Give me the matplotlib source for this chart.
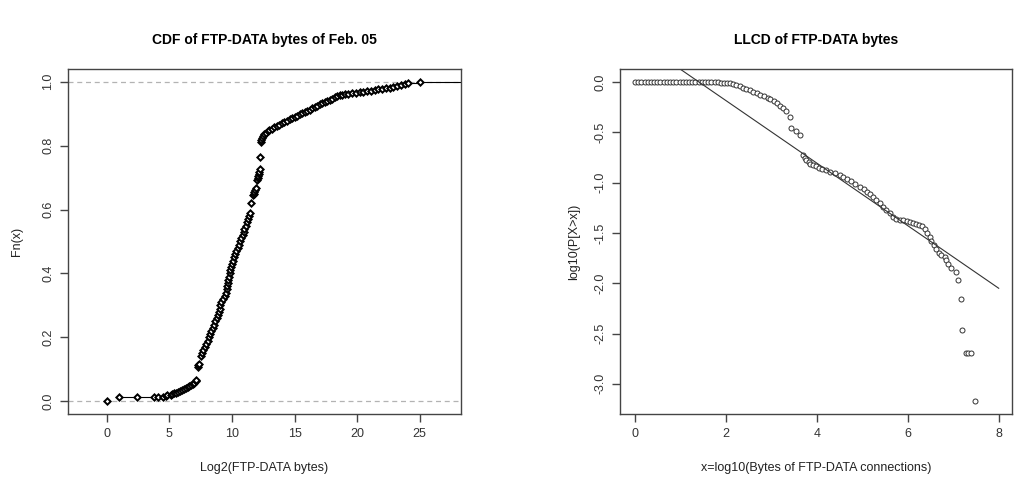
import numpy as np
import matplotlib
matplotlib.use("Agg")
import matplotlib.pyplot as plt

plt.rcParams["font.family"] = ["Liberation Sans", "DejaVu Sans"]

# left panel: empirical CDF of log2(bytes)
cdf_x = [0.0, 1.0, 2.4, 3.8, 4.1, 4.5, 4.7, 4.85,
         5.1, 5.25, 5.4, 5.55, 5.7, 5.85, 6.0, 6.15, 6.3, 6.45, 6.6, 6.75,
         6.9, 7.0, 7.1, 7.15,
         7.25, 7.3, 7.35,
         7.55, 7.63, 7.72, 7.82, 7.95, 8.05, 8.15, 8.25, 8.35, 8.45, 8.55,
         8.68, 8.78, 8.87, 8.95, 9.02, 9.08, 9.16, 9.28, 9.42, 9.52, 9.58,
         9.62, 9.67, 9.72, 9.78, 9.82, 9.86, 9.93, 10.0, 10.08, 10.15, 10.25,
         10.35, 10.45, 10.55, 10.65, 10.75, 10.85, 10.93, 11.0, 11.1, 11.2,
         11.28, 11.36, 11.42,
         11.55,
         11.72, 11.76, 11.8, 11.85, 11.9,
         12.02, 12.06, 12.1, 12.14, 12.18, 12.23,
         12.28,
         12.3, 12.34, 12.4, 12.48, 12.58, 12.7, 12.85, 13.0, 13.2, 13.4, 13.6,
         13.8, 14.0, 14.2, 14.4, 14.6, 14.8, 15.0, 15.2, 15.4, 15.6, 15.8,
         16.0, 16.2, 16.4, 16.6, 16.8, 17.0, 17.2, 17.4, 17.6, 17.8, 18.0,
         18.2, 18.4, 18.6, 18.8, 19.0,
         19.3, 19.6, 19.9, 20.2, 20.5, 20.8, 21.1, 21.4, 21.7, 22.0, 22.3,
         22.6, 22.9, 23.2, 23.5, 23.8, 24.1, 25.0]
cdf_f = [0.002, 0.012, 0.012, 0.013, 0.013, 0.014, 0.016, 0.018,
         0.021, 0.023, 0.025, 0.027, 0.029, 0.032, 0.035, 0.038, 0.041,
         0.044, 0.047, 0.051, 0.055, 0.058, 0.062, 0.066,
         0.108, 0.113, 0.117,
         0.14, 0.15, 0.16, 0.17, 0.18, 0.19, 0.20, 0.21, 0.22, 0.23, 0.24,
         0.25, 0.26, 0.27, 0.28, 0.29, 0.30, 0.31, 0.32, 0.33, 0.34, 0.35,
         0.36, 0.37, 0.38, 0.39, 0.40, 0.41, 0.42, 0.43, 0.44, 0.45, 0.46,
         0.47, 0.48, 0.49, 0.50, 0.51, 0.52, 0.53, 0.54, 0.55, 0.56, 0.57,
         0.58, 0.59,
         0.621,
         0.645, 0.650, 0.655, 0.660, 0.666,
         0.694, 0.700, 0.705, 0.710, 0.716, 0.726,
         0.766,
         0.812, 0.818, 0.824, 0.830, 0.835, 0.840, 0.845, 0.849, 0.853, 0.858,
         0.862, 0.866, 0.870, 0.874, 0.878, 0.882, 0.886, 0.890, 0.894, 0.898,
         0.901, 0.905, 0.909, 0.913, 0.917, 0.921, 0.925, 0.929, 0.933, 0.936,
         0.940, 0.944, 0.947, 0.951, 0.954, 0.957, 0.959, 0.961,
         0.963, 0.965, 0.966, 0.968, 0.969, 0.971, 0.972, 0.974, 0.976, 0.978,
         0.980, 0.982, 0.984, 0.987, 0.990, 0.993, 0.996, 1.000]

# right panel: log-log complementary distribution
llcd_x = [0.0, 0.07, 0.14, 0.21, 0.28, 0.35, 0.42, 0.49, 0.56, 0.63, 0.70,
          0.77, 0.84, 0.91, 0.98, 1.05, 1.12, 1.19, 1.26, 1.33, 1.40, 1.47,
          1.54, 1.61, 1.68, 1.75, 1.82, 1.89, 1.96, 2.03, 2.09,
          2.16, 2.23, 2.30, 2.38, 2.45, 2.52, 2.60, 2.68, 2.76, 2.84, 2.92,
          2.98, 3.05, 3.12, 3.19, 3.26, 3.32, 3.41, 3.44, 3.55, 3.63,
          3.70, 3.74, 3.77, 3.82, 3.86, 3.92, 3.98, 4.05, 4.12, 4.21, 4.3,
          4.4, 4.5, 4.58, 4.67, 4.76, 4.85, 4.95, 5.03, 5.1, 5.17, 5.24,
          5.31, 5.38, 5.46, 5.53, 5.6, 5.68, 5.75, 5.82, 5.9, 5.98, 6.05,
          6.12, 6.19, 6.25, 6.31, 6.37, 6.43, 6.48, 6.52, 6.58, 6.63, 6.68,
          6.74, 6.81, 6.85, 6.89, 6.96, 7.07, 7.1, 7.16, 7.2, 7.28, 7.33,
          7.38, 7.47]
llcd_y = [0.0, 0.0, 0.0, 0.0, 0.0, 0.0, 0.0, 0.0, 0.0, 0.0, 0.0,
          0.0, 0.0, 0.0, 0.0, 0.0, 0.0, 0.0, 0.0, 0.0, 0.0, -0.002,
          -0.002, -0.003, -0.003, -0.004, -0.004, -0.005, -0.006, -0.008, -0.012,
          -0.018, -0.027, -0.04, -0.055, -0.07, -0.083, -0.097, -0.112, -0.128,
          -0.143, -0.158, -0.17, -0.19, -0.21, -0.235, -0.26, -0.29, -0.35,
          -0.46, -0.49, -0.525,
          -0.725, -0.755, -0.775, -0.795, -0.81, -0.82, -0.835, -0.85, -0.862,
          -0.875, -0.89, -0.905, -0.925, -0.945, -0.965, -0.985, -1.01, -1.04,
          -1.065, -1.09, -1.115, -1.14, -1.17, -1.2, -1.24, -1.27, -1.3, -1.34,
          -1.36, -1.37, -1.37, -1.38, -1.39, -1.4, -1.41, -1.42, -1.43, -1.46,
          -1.5, -1.54, -1.58, -1.62, -1.66, -1.7, -1.72, -1.74, -1.77, -1.81,
          -1.85, -1.89, -1.97, -2.16, -2.46, -2.69, -2.69, -2.69, -3.17]

# fitted line, end points
fit_x = [0.0, 8.0]
fit_y = [0.438, -2.05]

GREY = "#444444"


def r_style(ax):
    for s in ax.spines.values():
        s.set_color(GREY)
        s.set_linewidth(1.0)
    ax.tick_params(direction="out", length=6, width=1.0, color=GREY,
                   labelsize=9, labelcolor="#333333", pad=4)
    for lab in ax.get_yticklabels():
        lab.set_rotation(90)
        lab.set_va("center")


fig = plt.figure(figsize=(10.18, 4.79), dpi=100)
ax1 = fig.add_axes([0.0668, 0.1357, 0.386, 0.7203])
ax2 = fig.add_axes([0.609, 0.1357, 0.385, 0.7203])

# ---- left: ECDF
xlo, xhi = -3.1, 28.3
ax1.axhline(0, color="#b3b3b3", ls=(0, (4, 3)), lw=0.9)
ax1.axhline(1, color="#b3b3b3", ls=(0, (4, 3)), lw=0.9)
steps_x0 = cdf_x[1:]
steps_x1 = cdf_x[2:] + [xhi]
steps_y = cdf_f[1:]
ax1.hlines(steps_y, steps_x0, steps_x1, color="black", lw=0.8)
ax1.plot(cdf_x, cdf_f, ls="none", marker="D", ms=3.2, mfc="white",
         mec="black", mew=1.4)
ax1.set_xlim(xlo, xhi)
ax1.set_ylim(-0.04, 1.04)
ax1.set_xticks([0, 5, 10, 15, 20, 25])
ax1.set_yticks([0.0, 0.2, 0.4, 0.6, 0.8, 1.0])
ax1.set_yticklabels(["0.0", "0.2", "0.4", "0.6", "0.8", "1.0"])
ax1.set_title("CDF of FTP-DATA bytes of Feb. 05", fontsize=10,
              fontweight="bold", pad=18)
ax1.set_xlabel("Log2(FTP-DATA bytes)", fontsize=9, labelpad=16, color="#222222")
ax1.set_ylabel("Fn(x)", fontsize=9, labelpad=14, color="#222222")
r_style(ax1)

# ---- right: LLCD
ax2.plot(llcd_x, llcd_y, ls="none", marker="o", ms=3.6, mfc="white",
         mec="#333333", mew=0.7)
ax2.plot(fit_x, fit_y, color="#333333", lw=0.8)
ax2.set_xlim(-0.33, 8.29)
ax2.set_ylim(-3.30, 0.13)
ax2.set_xticks([0, 2, 4, 6, 8])
ax2.set_yticks([0.0, -0.5, -1.0, -1.5, -2.0, -2.5, -3.0])
ax2.set_yticklabels(["0.0", "-0.5", "-1.0", "-1.5", "-2.0", "-2.5", "-3.0"])
ax2.set_title("LLCD of FTP-DATA bytes", fontsize=10, fontweight="bold", pad=18)
ax2.set_xlabel("x=log10(Bytes of FTP-DATA connections)", fontsize=9,
               labelpad=16, color="#222222")
ax2.set_ylabel("log10(P[X>x])", fontsize=9, labelpad=10, color="#222222")
r_style(ax2)

fig.savefig("out.png", dpi=100)
